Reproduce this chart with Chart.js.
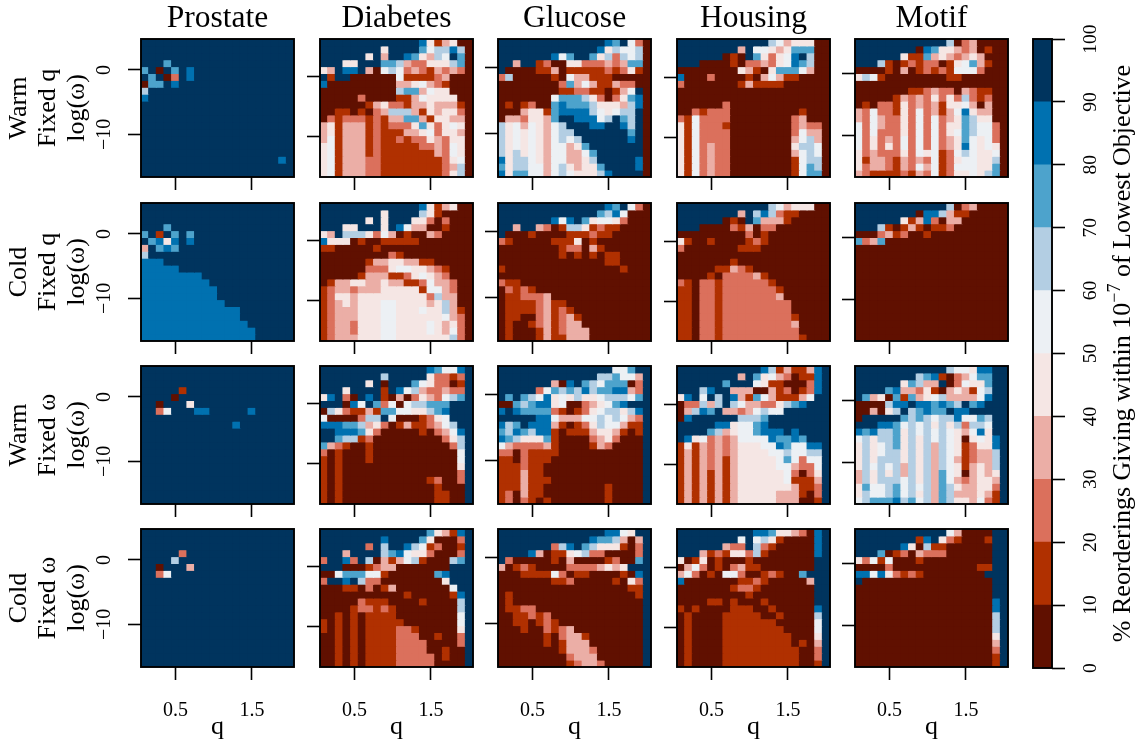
<!DOCTYPE html>
<html><head><meta charset="utf-8">
<style>html,body{margin:0;padding:0;background:#fff;width:1146px;height:745px;overflow:hidden}canvas{position:absolute}</style>
<script src="https://cdn.jsdelivr.net/npm/chart.js@4"></script>
</head><body>
<script>
// Each row (top to bottom) holds one decile bin per q column: 0 = 0-10 %, ... 9 = 90-100 %.
const prostateWarmQ=["99999999999999999999","99999999999999999999","99999999999999999999","99979999999999999999","79097989999999999999","97902989999999999999","07798999999999999999","69999999999999999999","89999999999999999999","99999999999999999999","99999999999999999999","99999999999999999999","99999999999999999999","99999999999999999999","99999999999999999999","99999999999999999999","99999999999999999999","99999999999999999989","99999999999999999999","99999999999999999999"];
const prostateColdQ=["99999999999999999999","99999999999999999999","99999999999999999999","99979999999999999999","79197979999999999999","97848989999999999999","39787999999999999999","69999999999999999999","88899999999999999999","88888999999999999999","88888888999999999999","88888888899999999999","88888888889999999999","88888888889999999999","88888888888999999999","88888888888889999999","88888888888889999999","88888888888888999999","88888888888888899999","88888888888888899999"];
const prostateWarmW=["99999999999999999999","99999999999999999999","99999999999999999999","99999199999999999999","99990999999999999999","99099949999999999999","99259998899999899999","99999999999999999999","99999999999989999999","99999999999999999999","99999999999999999999","99999999999999999999","99999999999999999999","99999999999999999999","99999999999999999999","99999999999999999999","99999999999999999999","99999999999999999999","99999999999999999999","99999999999999999999"];
const prostateColdW=["99999999999999999999","99999999999999999999","99999999999999999999","99999299999999999999","99996999999999999999","99099939999999999999","99259999999999999999","99999999999999999999","99999999999999999999","99999999999999999999","99999999999999999999","99999999999999999999","99999999999999999999","99999999999999999999","99999999999999999999","99999999999999999999","99999999999999999999","99999999999999999999","99999999999999999999","99999999999999999999"];

const diabetesWarmQ=["9999999999999 8 4 1 3 4 0 0","99999999 4 9999 7 5 6 6 8 6 0","999999 4 9 3 99 8 7 4 3 6 5 9 7 0","999 44 999 7 7 6 3 2 2 4 4 4 6 7 0","4 3 9 8 8 9 3 0 5 6 5 2 3 2 1 3 2 3 2 0","9 1 9 9 0 0 0 0 0 0 5 1 1 1 1 2 3 0 0 0","8 000000000 3 3 4 5 3 2 1 0 0 0","0000000000 6 7 7 3 5 4 4 0 0 0","00000 2 0000 1 1 3 5 4 4 4 4 0 0","000000 1 3 4 2 2 1 3 3 4 3 3 3 1 0","0 0 1 1 0 1 0 2 3 6 6 6 3 1 4 3 4 4 2 0","0 2 1 2 2 2 1 2 1 3 3 7 7 3 1 4 4 3 3 0","3 4 1 3 3 3 1 2 1 2 2 2 4 7 4 2 4 5 4 0","3 4 1 3 3 3 1 2 1 1 1 3 3 4 5 2 4 4 3 0","3 5 1 3 3 3 1 2 1 1 2 1 2 2 4 3 2 4 4 0","4 5 1 3 3 3 1 2 1 1 1 1 1 2 2 3 2 5 4 0","4 5 1 3 3 3 1 2 1 1 1 1 1 1 1 3 2 5 4 0","4 5 1 3 3 3 2 2 1 1 1 1 1 1 1 1 2 4 5 0","4 5 1 3 3 3 2 2 1 1 1 1 1 1 1 1 2 3 6 0","4 5 1 3 3 3 2 2 1 1 1 1 1 1 1 1 2 4 6 0"];
const glucoseWarmQ=["99999999999999 8 7 9 5 2 0","9999999999999 8 4 6 5 5 6 0","9999999 8 5 7 9 9 7 4 6 2 6 5 6 0","99 3 99 1 2 0 0 4 4 2 2 2 3 2 3 7 7 0","9 0 0 0 0 1 1 3 0 1 1 1 1 1 2 1 2 4 1 0","2 6 0 0 0 0 0 1 0 5 3 3 1 1 1 0 0 0 0 0","00000000 2 7 3 5 3 1 1 3 2 2 0 0","00000000 1 1 2 2 1 1 0 1 3 5 9 0","0000000 5 7 7 7 6 4 2 0 2 4 7 8 0","0 1 0 1 2 0 0 7 8 7 7 7 6 4 4 4 3 6 8 0","0 0 0 3 4 4 1 7 8 8 8 8 6 5 4 5 6 6 9 0","0 3 3 2 4 4 3 7 9 9 8 8 8 5 6 9 7 6 9 0","6 4 5 3 5 4 3 5 6 9 9 9 8 8 9 9 8 6 9 0","6 4 5 4 5 4 3 5 6 6 9 9 9 9 9 9 9 7 9 0","6 4 5 4 5 4 3 5 6 5 6 9 9 9 9 9 9 8 9 0","6 4 5 4 5 4 3 5 5 3 4 7 9 9 9 9 9 9 9 0","6 4 6 4 5 4 3 5 5 3 3 5 7 9 9 9 9 9 9 0","8 4 6 6 5 4 3 5 5 3 3 4 6 9 9 9 9 9 8 0","7 4 6 6 5 5 3 5 6 4 3 4 4 7 9 9 9 9 8 0","8 4 7 7 5 5 3 5 6 5 4 4 4 6 8 9 9 9 9 0"];
const housingWarmQ=["999999999999 6 5 3 4 4 4 0 0","99999999 3 9 5 5 4 3 4 7 7 7 0 0","999999 0 1 0 9 7 4 2 4 5 8 9 6 0 0","999 0000 1 0 2 2 3 2 4 5 8 7 6 0 0","00000000 4 3 1 0 4 7 7 7 5 3 0 0","8 000 2 0000 1 0 3 5 3 1 1 0 0 0 0","2 0000000 1 3 1 1 1 1 000000","00000000000000000000","00000000000000000000","000000 2 0000000000000","0 0 2 1 2 2 2 000000000 1 000","2 1 5 2 2 2 2 00000000 2 3 000","4 1 5 2 2 2 1 00000000 2 3 2 2 0","4 1 5 2 2 2 2 00000000 2 5 3 3 0","4 1 5 2 2 2 2 00000000 3 5 6 3 0","4 1 5 2 3 2 2 00000000 4 6 6 5 0","4 1 5 2 3 2 2 00000000 3 5 6 5 0","4 1 5 2 3 2 2 00000000 1 5 6 6 0","4 1 5 2 3 2 2 00000000 1 5 7 6 0","4 1 5 2 3 2 2 00000000 1 5 7 7 0"];
const motifWarmQ=["999999999999 6 0 2 3 0 0 0 0","99999999 0 8 7 4 4 3 2 3 0 1 0 0","999999 4 1 1 7 3 4 3 2 3 4 3 0 0 0","999 6 1 0 1 2 1 2 2 0 1 4 5 7 3 1 0 0","0 0 0 0 1 0 3 0 1 2 1 2 1 5 5 5 2 0 0 0","4 6 5 1 00000000 1 1 000000","00000000000000000000","0000000 1 1 2 3 2 2 0 3 2 1 1 0 0","00000 1 3 2 3 2 4 2 4 2 6 2 1 2 0 0","0 1 0 2 2 1 4 2 3 2 3 1 4 4 5 3 0 3 0 0","3 2 5 2 2 1 4 2 5 2 3 1 3 5 8 4 3 3 0 0","3 2 5 3 2 2 4 2 5 2 5 2 3 4 7 6 4 4 0 0","5 2 5 3 2 2 4 2 5 2 5 2 4 4 7 6 5 5 2 0","5 2 5 2 2 2 4 2 5 2 5 2 4 5 7 6 5 5 2 0","5 2 4 2 3 2 5 2 5 2 5 2 3 4 7 5 4 5 2 0","5 2 4 2 4 2 5 2 5 2 5 2 3 4 8 5 4 5 4 0","4 2 3 2 2 2 4 2 5 4 5 1 2 5 6 5 4 4 5 0","4 1 3 3 2 1 3 2 3 2 5 1 2 4 5 5 4 4 6 0","4 2 3 3 2 1 3 2 5 3 5 1 2 5 5 5 4 4 7 0","3 2 1 1 1 1 2 1 3 2 5 1 2 4 4 5 4 6 7 0"];

const diabetesColdQ=["9999999999999 8 4 1 3 4 0 0","99999999 4 9999 6 4 1 0 0 0 0","999999 4 9 4 999 4 4 2 0 2 0 0 0","999 4 4 999 4 9 8 5 3 3 0 0 1 0 0 0","4 3 9 6 6 6 4 2 5 3 0 1 0 0 3 2 0 0 0 0","8 4 4 4 0 1 0 0 1 1 1 1 1 0000000","1 1 00000 1 000000000000","000000000 2 1 000000000","000000 1 3 3 4 4 3 3 1 1 00000","000000 2 2 2 4 5 5 4 4 3 2 1 000","00000 1 3 3 3 1 1 2 4 5 4 3 2 000","0 1 3 3 4 4 3 3 4 3 3 1 1 2 5 3 3 2 0 0","1 2 3 3 2 3 3 3 4 4 4 4 4 1 5 5 3 2 0 0","1 2 4 4 3 4 4 4 4 4 4 4 4 4 2 6 3 3 0 0","1 2 3 4 3 4 4 4 5 5 4 4 4 4 3 4 6 3 0 0","1 2 3 3 3 4 4 4 5 5 4 4 4 5 4 4 6 3 1 0","1 2 3 3 3 4 4 4 5 5 4 4 4 4 4 4 5 3 2 0","1 2 3 3 2 4 4 4 5 5 4 4 4 4 5 4 3 4 2 0","1 2 3 3 2 4 4 4 5 5 4 4 4 4 5 4 3 5 2 0","1 2 3 3 3 4 4 4 5 5 4 4 4 4 4 4 4 6 2 0"];
const glucoseColdQ=["99999999999999 8 7 9 5 2 0","9999999999999 7 6 8 5 0 0 0","9999999 8 5 8 9 7 4 5 5 4 2 000","99 3 99 3 2 0 1 6 6 4 1 2 1 1 0 0 0 0","9 000 1 0000 1 1 1 2 1 1 00000","2 1 00000 1 1 1 4 0 1 0000000","00000000 1 2 2 0 3 1 000000","00000000 1 0 1 0 1 0 1 1 0000","00000000000000 1 1 0000","1 000000000000000 1 000","00000000000000000000","2 1 1 00000000000000000","0 2 1 2 1 000000000000000","0 1 1 2 2 2 3 0000000000000","0 1 1 1 1 2 3 1 1 00000000000","0 1 1 1 1 2 3 1 2 1 0000000000","0 1 1 0 0 2 3 1 2 3 1 000000000","0 1 0 0 1 2 3 1 2 3 3 000000000","0 1 0 0 0 1 3 1 2 3 3 3 00000000","0 1 0 0 0 1 3 1 1 3 3 3 00000000"];
const housingColdQ=["999999999999 6 5 3 4 4 4 0 0","99999999 3 9 6 8 6 2 1 1 0000","999999 0 1 0 9 7 3 3 3 1 00000","999 0000 2 1 3 0 2 2 0000000","000000000 2 0 1 00000000","4 1 0 0 1 0000 1 2 1 00000000","2 0000000 1 1 1 000000000","00000000000000000000","0000000 1 000000000000","00000 1 1 3 2 1 0000000000","0000 1 0 2 2 2 2 3 1 00000000","2 1 0 2 2 1 2 2 2 2 2 2 1 0000000","1 1 0 2 2 1 2 2 2 2 2 2 2 1 000000","1 1 0 2 2 1 2 2 2 2 2 2 2 3 000000","1 1 0 2 2 1 2 2 2 2 2 2 2 2 2 00000","1 1 0 2 2 1 2 2 2 2 2 2 2 2 2 00000","1 1 0 2 2 1 2 2 2 2 2 2 2 2 2 1 0000","1 1 0 2 2 1 2 2 2 2 2 2 2 2 2 3 0000","1 1 0 2 2 1 2 2 2 2 2 2 2 2 2 2 0000","1 1 0 2 2 1 2 2 2 2 2 2 2 2 2 2 1 000"];
const motifColdQ=["999999999999 6 0 2 3 0 0 0 0","99999999 0 8 8 6 3 1 1 00000","999999 4 1 3 8 2 0 3 3 000000","999 6 1 0 1 3 1 0 1 1 2 0000000","000 2 3 1 2 00 1 0000000000","7 2 3 7 0000000000000000","00000000000000000000","00000000000000000000","00000000000000000000","00000000000000000000","00000000000000000000","00000000000000000000","00000000000000000000","00000000000000000000","00000000000000000000","00000000000000000000","00000000000000000000","00000000000000000000","00000000000000000000","00000000000000000000"];

const diabetesWarmW=["99999999999999 8 7 5 5 8 9","99999999 6 99999 4 2 2 1 2 9","999999 4 9 0 999 7 5 4 2 2 0 1 9","999 4 9999 1 9 8 5 6 3 2 2 3 2 2 9","4 8 9 2 0 9 8 9 1 0 3 0 2 4 3 2 5 6 7 9","9 9 9 0 8 5 9 7 2 5 0 5 6 6 7 7 7 9 9 9","0 6 4 2 1 1 3 1 7 7 5 5 4 4 6 7 8 9 9 9","5 0 0 0 0 2 6 6 9 5 0 0 0 1 2 4 5 9 9 9","8 8 8 7 7 6 3 4 2 0 1 3 1 1 2 3 5 6 9 9","9 9 8 8 8 7 4 2 0 0 0 0 0 1 0 2 3 5 8 9","9 9 7 6 6 1 2 000000000 2 4 6 9","7 3 2 1 0 0 1 0000000000 2 6 9","2 0 1 000 1 00000000000 5 9","1 0 1 000 1 00000000000 5 9","1 0 1 000000000000000 4 9","1 0 1 000000000000000 2 9","1 0 1 00000000000 1 2 0 0 2 9","1 0 1 000000000000 1 000 9","1 0 1 000000000000 1 1 0 0 9","1 0 1 000000000000 1 1 0 0 9"];
const glucoseWarmW=["999999999999999 5 5 7 9 9","9999999999999 6 6 7 5 5 3 9","9999999 3 0 8 9 7 6 5 7 7 7 0 2 9","99999 2 5 7 6 7 6 8 6 7 7 8 8 3 2 9","9 7 9 7 6 5 8 4 5 4 6 4 4 5 6 6 6 5 7 9","0 0 7 6 7 8 8 4 5 0 0 2 3 4 5 7 8 9 9 9","8 9 8 7 7 7 7 2 1 0 1 2 4 5 6 6 4 6 8 9","9 9 9 9 9 8 8 5 3 3 3 5 5 6 5 6 5 3 2 9","8 6 7 9 8 8 8 3 1 0 1 2 4 6 5 5 3 1 1 9","7 6 8 7 6 8 8 1 0 1 1 1 3 4 4 3 1 0 1 9","8 7 6 4 4 4 7 1 0 0 0 0 2 3 4 2 0 0 0 9","5 3 2 2 2 2 3 1 0 0 0 0 1 3 2 0 0 0 0 9","2 2 0 2 1 1 1 1 00000000000 9","1 1 0 2 1 1 1 000000000000 9","1 1 1 2 1 1 0000000000000 9","1 1 1 3 1 1 0000000000000 9","1 1 1 3 1 1 1 000000000000 9","1 1 1 3 1 1 00000000 1 0000 9","1 2 0 3 1 1 00000000 1 0000 9","1 2 0 2 1 0 1 0000000 1 0000 9"];
const housingWarmW=["99999999999 8 6 1 3 1 1 3 8 9","99999999 3 9 7 4 5 3 2 0 1 1 8 9","999999 7 999 5 4 1 1 0 0 0 2 8 9","999 6 8 99 3 3 3 0 0 3 1 2 0 1 2 8 9","4 8 9 5 9 6 9 8 3 1 7 5 3 1 1 1 3 5 9 9","0 2 2 6 3 6 9 6 5 3 3 2 2 4 6 7 8 9 9 9","0 3 6 8 7 9 3 3 2 3 5 6 5 5 9 9 9 9 9 9","0 8 999999 6 6 6 7 99999999","99999 8 8 4 5 5 7 8 99999999","9999 7 6 3 4 5 5 7 8 8 8 9 8 9 9 9 9","9 8 4 5 2 3 2 3 5 5 5 5 8 7 7 8 7 9 9 9","1 4 1 3 2 3 2 3 4 4 4 5 5 8 7 5 5 8 8 9","1 3 1 3 2 3 2 3 4 4 4 4 5 5 6 5 5 6 6 9","1 3 1 3 2 3 1 3 4 4 4 4 4 5 7 5 2 5 5 9","1 3 1 3 2 3 1 3 4 4 4 4 4 5 5 3 2 2 5 9","1 3 1 3 1 3 1 3 4 4 4 4 4 4 5 2 0 2 4 9","1 3 1 3 1 3 1 3 4 4 4 4 4 4 5 1 1 1 3 9","1 3 1 3 1 3 1 3 4 4 4 4 4 4 4 3 1 1 2 9","1 3 1 3 1 3 1 3 4 4 4 4 4 3 3 3 1 0 2 9","1 3 1 3 1 3 1 3 4 4 4 4 4 3 3 3 0 0 1 9"];
const motifWarmW=["999999999999 6 5 5 4 8 8 9 9","99999999 6 7 8 1 0 2 3 5 7 7 9 9","999999 4 7 6 3 3 9 0 2 5 4 4 7 9 9","9999 7 8 3 3 2 4 1 0 3 4 3 1 5 6 9 9","9 7 3 4 0 7 1 7 3 4 5 6 3 3 3 3 5 8 9 9","0 0 0 0 6 8 8 9 8 8 7 8 7 6 9 7 8 9 9 9","0 0 3 0 4 6 9 6 7 8 7 7 9 8 8 9 9 9 9 9","0 9 9 9 9 9 7 6 7 6 5 6 6 8 5 5 7 6 9 9","9 9 9 8 8 7 5 6 5 6 4 6 4 6 2 6 6 5 9 9","8 7 8 6 6 7 4 6 5 6 5 6 5 4 3 5 8 4 9 9","5 6 4 6 6 7 4 6 4 6 5 6 5 4 0 4 5 4 8 9","4 6 4 5 6 7 4 6 4 6 3 6 5 4 1 2 4 4 8 9","4 6 4 5 6 6 4 6 4 6 3 6 5 4 1 2 3 3 6 9","4 6 4 6 6 6 4 6 4 6 3 6 5 3 1 2 3 3 6 9","4 6 5 6 5 6 3 6 4 6 3 6 5 4 1 3 4 3 6 9","3 6 4 6 4 6 3 6 4 6 3 7 5 4 0 3 4 3 4 9","3 6 4 6 6 6 5 6 4 6 3 7 5 3 2 3 4 4 3 9","4 7 5 5 6 7 5 6 5 6 3 7 6 4 3 3 4 4 2 9","4 6 5 5 6 7 5 6 4 6 3 7 6 3 3 3 4 3 1 9","5 6 7 7 7 8 6 7 5 6 3 7 6 4 4 3 5 2 1 9"];

const diabetesColdW=["99999999999999 7 4 3 1 8 9","99999999 8 9999 7 4 0 0 0 2 9","999999 2 9 6 99 8 6 5 1 2 0 0 1 9","999 3 9999 6 7 8 5 4 4 2 0 0 0 2 9","2 9 9 8 2 9 6 0 3 1 3 5 6 1 0 0 0 6 7 9","9 9 9 0 0 0 1 2 3 3 0 0 0 0 0 0 0 9 9 9","0 0 5 7 7 7 5 5 1 000000 7 8 9 9 9","2 9 9 8 9 6 2 2 00000000 4 9 9 9","000 1 1 0 2 0 1 3 0000000 5 9 9","00000000000 1 00000 1 8 9","00000 2 1 1 1 0000 1 0000 6 9","0000 1 2 2 1 2 1 00000000 6 9","00 1 0 1 0 1 1 1 1 00000000 5 9","1 0 1 0 1 0 1 1 1 1 1 0000000 5 9","1 0 1 0 1 0 1 1 1 1 2 2 1 00000 4 9","0 0 1 0 1 0 1 1 1 1 2 2 2 0 0 1 0 0 2 9","0 0 1 0 1 0 1 1 1 1 2 2 2 2 0 0 0 0 2 9","0 0 1 0 1 0 1 1 1 1 2 2 2 2 0 0 1 0 0 9","0 0 1 0 1 0 1 1 1 1 2 2 2 2 2 0 1 0 0 9","0 0 1 0 1 0 1 1 1 1 2 2 2 2 2 0 0 0 0 9"];
const glucoseColdW=["99999999999999 8 8 5 4 9 9","999999999999 8 7 7 6 3 0 3 9","9999999 2 6 8 9 7 6 4 4 4 1 0 2 9","9999 8 3 0 1 1 4 5 6 2 2 0 0 0 0 2 9","9 2 0 0 0 0 0 1 0 3 0 0 0 0 1 2 0 0 7 9","3 0 1 2 1 0 0 0 0 2 2 2 2 3 4 3 4 9 9 9","000 1 1 1 1 5 2 0 1 1 0000 1 0 8 9","0000000 1 1 2 00000 1 0 4 2 9","00000000000000000 1 1 9","0 1 0000000000000000 1 9","0 1 00000000000000000 9","0 1 1 2 2 00000000000000 9","0 0 1 1 2 1 2 000000000000 9","0 0 1 1 0 1 2 1 00000000000 9","0 0 0 1 0 0 2 1 2 3 000000000 9","000000 1 0 2 3 3 1 0000000 9","000000 1 0 1 3 3 3 0000000 9","00000000 1 3 3 3 2 000000 9","000000000 2 3 3 3 000000 9","000000000 1 2 3 3 2 00000 9"];
const housingColdW=["9999999999 8 8 7 4 4 3 2 0 8 9","99999999 5 9 5 6 4 1 0 0 0 0 8 9","999999 3 2 2 9 6 2 1 00000 8 9","999 3 1 2 1 4 4 2 6 1 000000 8 9","4 0 1 4 0 1 0 0 0 1 00000000 9 9","0 3 5 2 0 1 0 2 3 1 1 0000000 9 9","3 5 2 0 1 0 5 5 2 0 0 1 2 1 0 0 7 9 9 9","8 0000000 1 1 2 1 00000 3 9 9","0000000 1 2 2 1 0000000 9 9","000000000 1 00000000 9 9","0000 1 1 0 1 000 1 000000 9 9","1 0 1 0000 1 1 1 00 1 00000 8 9","0 1 0000 1 1 1 1 1 00 1 0000 6 9","0 1 0000 1 1 1 1 1 1 1 00000 5 9","0 1 0000 11111111 0000 5 9","0 1 0000 111111111 000 4 9","0 1 0000 111111111 0 1 0 3 9","0 1 0000 1111111111 00 2 9","0 1 0000 1111111111 00 2 9","0 1 0000 1111111111 00 1 9"];
const motifColdW=["999999999999 5 3 0000 9 9","99999999 1 8 9 4 2 1 000 1 9 9","999999 8 4 0 6 1 1 000000 9 9","999 7 0 1 2 0 3 2 2 2 000000 9 9","4 2 5 1 5 000 1 000000000 9 9","0000 2 00000000000 1 1 9 9","8 8 5 8 4 2 1 2 1 00000000 9 9 9","9 00000000000000000 9 9","000000000000000000 9 9","000000000000000000 9 9","000000000000000000 8 9","000000000000000000 8 9","000000000000000000 6 9","000000000000000000 6 9","000000000000000000 6 9","000000000000000000 4 9","000000000000000000 3 9","000000000000000000 2 9","000000000000000000 1 9","000000000000000000 1 9"];

const qValues=[0.1,0.2,0.3,0.4,0.5,0.6,0.7,0.8,0.9,1.0,1.1,1.2,1.3,1.4,1.5,1.6,1.7,1.8,1.9,2.0];
const datasetNames=["Prostate","Diabetes","Glucose","Housing","Motif"];
const omegaTop=[4.82,6.33,4.32,6.42,5.56];
const omegaBottom=[-16.64,-16.67,-16.59,-16.58,-16.7];
const rowLabels=[["Warm","Fixed q","log(ω)"],["Cold","Fixed q","log(ω)"],["Warm","Fixed ω","log(ω)"],["Cold","Fixed ω","log(ω)"]];
const qTicks=[0.5,1.5];
const omegaTicks=[0,-10];
const legendEdges=[0,10,20,30,40,50,60,70,80,90,100];
const binColors=["#601000","#B03000","#DB705C","#EBAEA6","#F5E6E4","#ECF0F4","#B3CEE3","#4DA3CC","#0071B0","#00345E"];
const grids=[
 [prostateWarmQ,diabetesWarmQ,glucoseWarmQ,housingWarmQ,motifWarmQ],
 [prostateColdQ,diabetesColdQ,glucoseColdQ,housingColdQ,motifColdQ],
 [prostateWarmW,diabetesWarmW,glucoseWarmW,housingWarmW,motifWarmW],
 [prostateColdW,diabetesColdW,glucoseColdW,housingColdW,motifColdW]];

const FONT="'Liberation Serif','Times New Roman',serif";
const panelLeft=[141,320,498,677,855],panelTop=[39,203,366,529],PW=153,PH=138,TICK=13;

const bad=[];
grids.forEach((r,i)=>r.forEach((g,j)=>{if(g.length!==20)bad.push(i+'/'+j+' rows '+g.length);g.forEach((s,k)=>{if(s.replace(/\s/g,'').length!==20)bad.push(i+'/'+j+'/'+k+':'+s.replace(/\s/g,'').length)})}));
if(bad.length)throw new Error('bad rows '+bad.join(', '));

Chart.defaults.animation=false;
const framePlugin={id:'frame',
 beforeDraw(chart){ // centre rotated tick labels on their ticks
  Object.values(chart.scales).forEach(s=>{ if(!s.isHorizontal()&&s.options.ticks.display&&s.options.display!==false){ s.getLabelItems().forEach(it=>{it.options.textAlign='center'}); } });
 },
 afterDraw(chart){const a=chart.chartArea,c=chart.ctx;c.save();c.strokeStyle='#000';c.lineWidth=1.9;c.strokeRect(a.left,a.top,a.right-a.left,a.bottom-a.top);c.restore();}
};
function noPad(s){s.paddingTop=0;s.paddingBottom=0;s.paddingLeft=0;s.paddingRight=0;}

function makeCanvas(x,y,w,h){const c=document.createElement('canvas');c.width=w;c.height=h;c.style.cssText=`left:${x}px;top:${y}px;width:${w}px;height:${h}px`;document.body.appendChild(c);return c;}

function panel(r,cIdx){
 const leftM=cIdx===0?141:18, rightPad=3, top=r===0?0:panelTop[r]-3, bottomM=r===3?745-(panelTop[3]+PH):16;
 const x0=panelLeft[cIdx]-leftM, w=leftM+PW+rightPad, h=panelTop[r]-top+PH+bottomM;
 const grid=grids[r][cIdx].map(s=>s.replace(/\s/g,''));
 const t=omegaTop[cIdx],b=omegaBottom[cIdx],n=grid.length;
 const datasets=grid.map((row,i)=>({
  data:qValues.map(q=>({x:q,y:[t-(i+1)*(t-b)/n,t-i*(t-b)/n]})),
  backgroundColor:qValues.map((q,j)=>binColors[+row[j]]),
  borderWidth:0,barPercentage:1,categoryPercentage:1,grouped:false,inflateAmount:0.5
 }));
 new Chart(makeCanvas(x0,top,w,h),{type:'bar',data:{datasets},plugins:[framePlugin],options:{
  responsive:false,animation:false,events:[],devicePixelRatio:1,
  layout:{padding:{top:r===0?0:3,right:rightPad,left:0,bottom:0}},
  plugins:{legend:{display:false},tooltip:{enabled:false},
   title:{display:r===0,fullSize:false,text:datasetNames[cIdx],color:'#000',font:{family:FONT,size:31.5,weight:'normal',lineHeight:1},padding:{top:3.25,bottom:4.25}}},
  scales:{
   x:{type:'linear',min:0.05,max:2.05,offset:false,
    afterBuildTicks:s=>{s.ticks=qTicks.map(v=>({value:v}));},
    afterFit:s=>{s.height=bottomM;noPad(s);},
    border:{display:false},
    grid:{offset:false,drawOnChartArea:false,drawTicks:true,tickLength:TICK,tickColor:'#000',tickWidth:1.6},
    ticks:{display:r===3,color:'#000',font:{family:FONT,size:20},padding:19,maxRotation:0,minRotation:0,autoSkip:false,callback:v=>v.toFixed(1)},
    title:{display:r===3,text:'q',color:'#000',font:{family:FONT,size:26,lineHeight:1},padding:{top:0,bottom:5}}},
   y:{type:'linear',min:b,max:t,
    afterBuildTicks:s=>{s.ticks=omegaTicks.map(v=>({value:v}));},
    afterFit:s=>{s.width=leftM;noPad(s);},
    border:{display:false},
    grid:{offset:false,drawOnChartArea:false,drawTicks:true,tickLength:TICK,tickColor:'#000',tickWidth:1.6},
    ticks:{display:cIdx===0,color:'#000',font:{family:FONT,size:20},padding:23,minRotation:90,maxRotation:90,autoSkip:false,callback:v=>v<0?'\u2212'+Math.abs(v):''+v},
    title:{display:cIdx===0,text:rowLabels[r],color:'#000',font:{family:FONT,size:26,lineHeight:1.115},padding:{top:4.7,bottom:0}}}
  }}});
}
for(let r=0;r<4;r++)for(let c=0;c<5;c++)panel(r,c);

// colour key
const keyTitle=['% Reorderings Giving within 10','\u22127',' of Lowest Objective'];
const keyTitlePlugin={id:'keyTitle',afterDraw(chart){
 const c=chart.ctx,a=chart.chartArea;c.save();c.fillStyle='#000';c.textBaseline='alphabetic';c.textAlign='left';
 const big=`26px ${FONT}`,small=`18px ${FONT}`;
 c.font=big;const w0=c.measureText(keyTitle[0]).width,w2=c.measureText(keyTitle[2]).width;
 c.font=small;const w1=c.measureText(keyTitle[1]).width;
 const cy=(a.top+a.bottom)/2;
 c.translate(1130-1020,cy);c.rotate(-Math.PI/2);
 let x=-(w0+w1+w2)/2;
 c.font=big;c.fillText(keyTitle[0],x,0);x+=w0;
 c.font=small;c.fillText(keyTitle[1],x,-10);x+=w1;
 c.font=big;c.fillText(keyTitle[2],x,0);
 c.restore();}};
new Chart(makeCanvas(1020,0,126,745),{type:'bar',
 data:{labels:[''],datasets:binColors.map((col,i)=>({data:[[legendEdges[i],legendEdges[i+1]]],backgroundColor:col,borderWidth:0,barPercentage:1,categoryPercentage:1,grouped:false}))},
 plugins:[framePlugin,keyTitlePlugin],
 options:{responsive:false,animation:false,events:[],devicePixelRatio:1,
  layout:{padding:{top:39,left:13,right:0,bottom:77}},
  plugins:{legend:{display:false},tooltip:{enabled:false},title:{display:false}},
  scales:{x:{display:false},
   y:{position:'right',min:0,max:100,
    afterBuildTicks:s=>{s.ticks=legendEdges.map(v=>({value:v}));},
    afterFit:s=>{s.width=94;noPad(s);},
    border:{display:false},
    grid:{offset:false,drawOnChartArea:false,drawTicks:true,tickLength:TICK,tickColor:'#000',tickWidth:1.6},
    ticks:{color:'#000',font:{family:FONT,size:19.5},padding:26,minRotation:90,maxRotation:90,autoSkip:false}}}}});
</script>
</body></html>
